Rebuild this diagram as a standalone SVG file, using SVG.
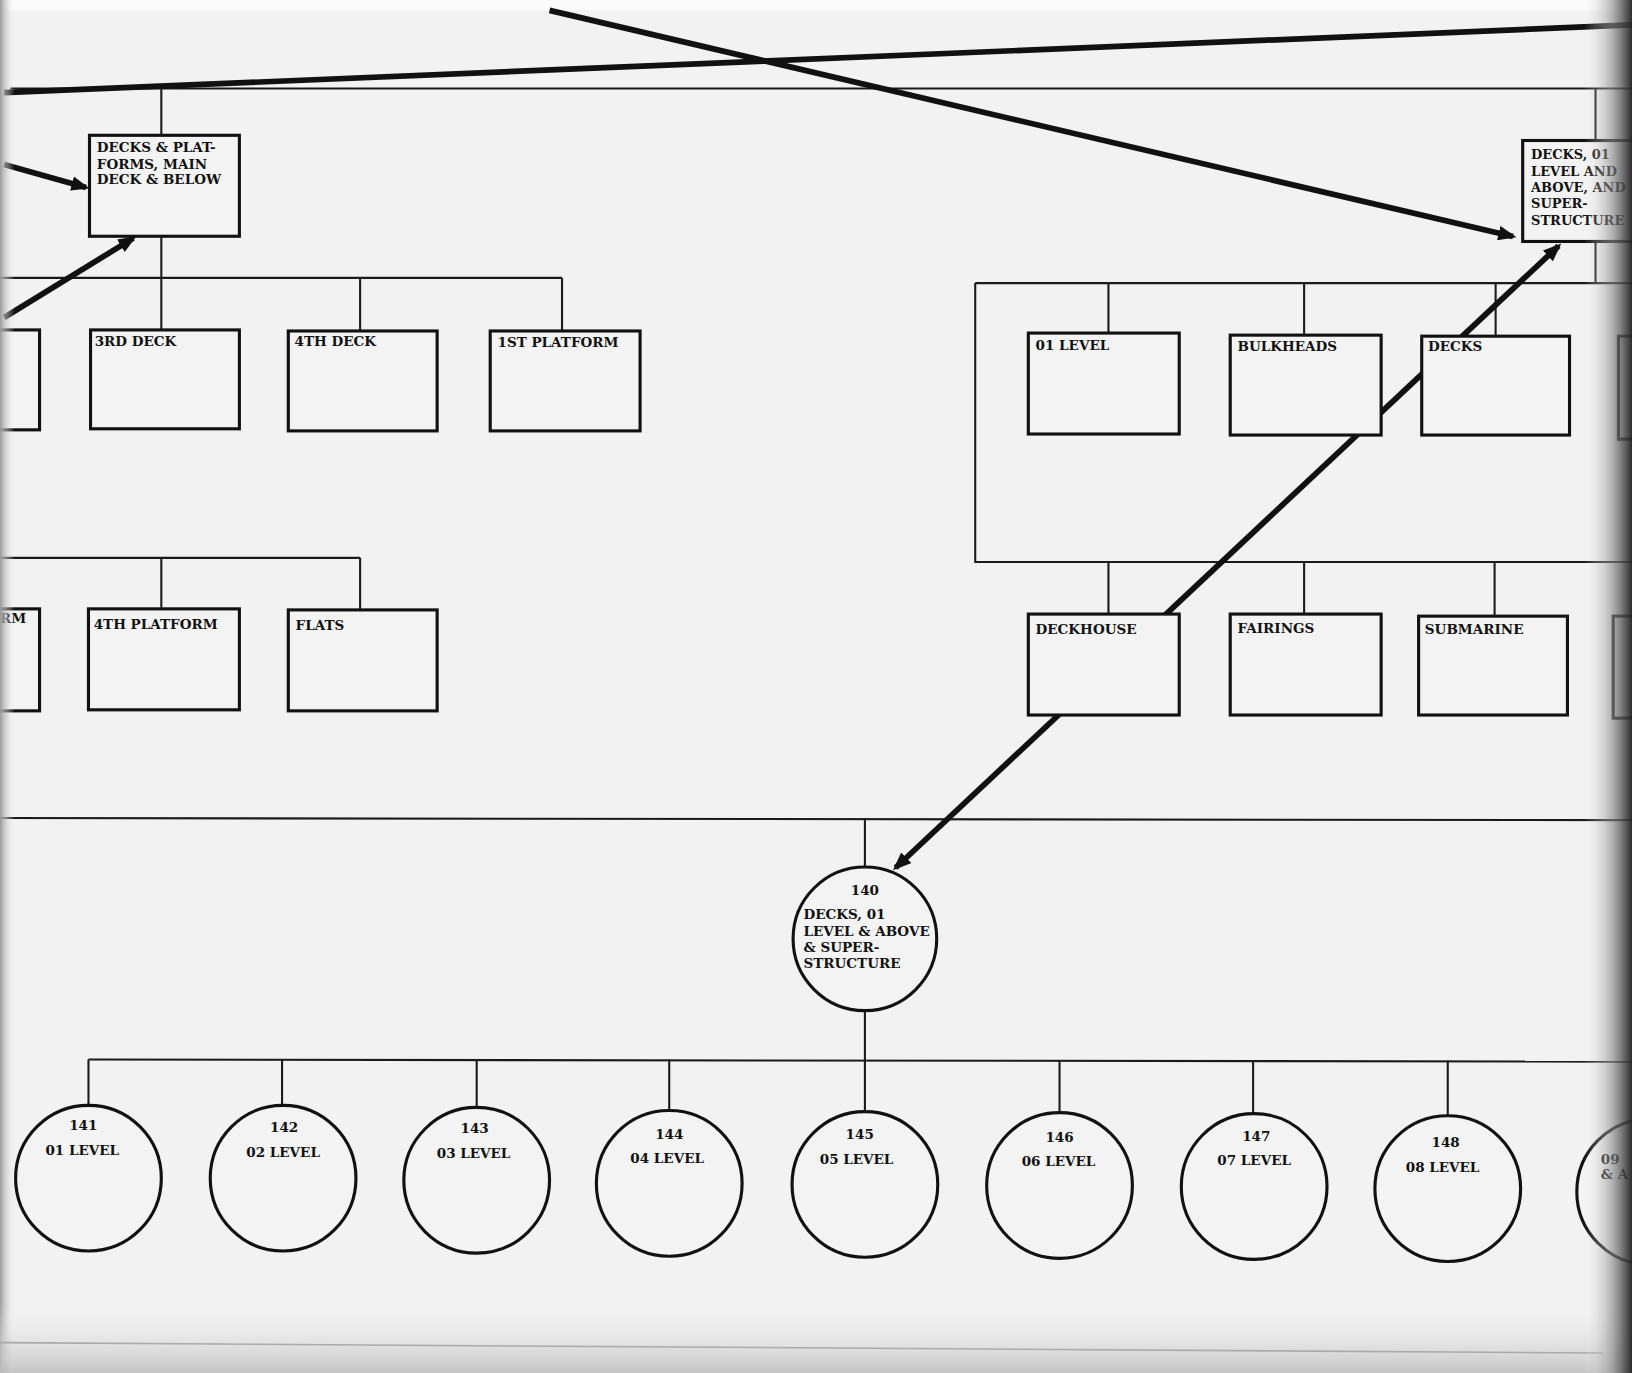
<svg xmlns="http://www.w3.org/2000/svg" width="1632" height="1373" viewBox="0 0 1632 1373">
<defs>
<marker id="ah" viewBox="0 0 10 8" refX="8" refY="4" markerWidth="3.2" markerHeight="2.6" orient="auto-start-reverse" markerUnits="strokeWidth"><path d="M0,0 L10,4 L0,8 z" fill="#111"/></marker>
<linearGradient id="gl" x1="0" y1="0" x2="1" y2="0"><stop offset="0" stop-color="#9a9a9a"/><stop offset="1" stop-color="#f2f2f2" stop-opacity="0"/></linearGradient>
<linearGradient id="gr" x1="0" y1="0" x2="1" y2="0"><stop offset="0" stop-color="#f2f2f2" stop-opacity="0"/><stop offset="0.55" stop-color="#8a8a8a" stop-opacity="0.6"/><stop offset="1" stop-color="#1a1a1a"/></linearGradient>
<linearGradient id="gb" x1="0" y1="0" x2="0" y2="1"><stop offset="0" stop-color="#f2f2f2" stop-opacity="0"/><stop offset="1" stop-color="#b5b5b5"/></linearGradient>
<style>
.thin{stroke:#1a1a1a;stroke-width:2;fill:none}
.thick{stroke:#111;stroke-width:5.5;fill:none}
.arr{stroke:#111;stroke-width:5.5;fill:none;marker-end:url(#ah)}
.arr2{stroke:#111;stroke-width:5.5;fill:none;marker-end:url(#ah);marker-start:url(#ah)}
.box{fill:#f3f3f3;stroke:#111;stroke-width:3}
.circ{fill:#f3f3f3;stroke:#111;stroke-width:3}
text{font-family:"DejaVu Serif","Liberation Serif",serif;font-weight:bold;font-size:13px;fill:#111}
.c{text-anchor:middle}
.s{font-size:12.5px}
</style>
</defs>
<g transform="scale(1.0408)">
<rect x="0" y="0" width="1600" height="1330" fill="#f2f2f2"/>
<rect x="0" y="0" width="1600" height="10" fill="#fbfbfb"/>

<g id="connectors">
<path class="thin" d="M10,85 H1568"/>
<path class="thin" d="M155,85 V130"/>
<path class="thin" d="M155,227 V267"/>
<path class="thin" d="M0,267 H540"/>
<path class="thin" d="M155,267 V317 M346,267 V318 M540,267 V318"/>
<path class="thin" d="M0,536 H346 M155,536 V585 M346,536 V586"/>
<path class="thin" d="M1533,85 V135 M1533,232 V272"/>
<path class="thin" d="M937,272 H1568 M937,272 V540 H1568"/>
<path class="thin" d="M1065,272 V320 M1253,272 V322 M1437,272 V323"/>
<path class="thin" d="M1065,540 V590 M1253,540 V590 M1436,540 V592"/>
<path class="thin" d="M0,786 L1568,788"/>
<path class="thin" d="M831,786 V833 M831,971 V1068"/>
<path class="thin" d="M85,1018 L1568,1020"/>
<path class="thin" d="M85,1018 V1062 M271,1018 V1062 M458,1018 V1064 M643,1018 V1067 M1018,1019 V1069 M1204,1019 V1070 M1391,1019 V1072"/>
<path class="thick" d="M4,89 L1568,24"/>
<path class="arr" d="M528,10 L1453.7,227.2"/>
<path class="arr" d="M4,158 L82.7,180.1"/>
<path class="arr" d="M4,305 L128.1,228.8"/>
<path class="arr2" d="M860.5,833.7 L1497.5,236.3"/>
</g>

<g id="n-main-deck">
<rect class="box" x="86" y="130" width="144" height="97"/>
<text x="93" y="146">DECKS &amp; PLAT-</text>
<text x="93" y="162">FORMS, MAIN</text>
<text x="93" y="177">DECK &amp; BELOW</text>
</g>
<g id="n-left-1"><rect class="box" x="-20" y="317" width="58" height="96"/></g>
<g id="n-3rd-deck"><rect class="box" x="87" y="317" width="143" height="95"/><text x="91" y="332">3RD DECK</text></g>
<g id="n-4th-deck"><rect class="box" x="277" y="318" width="143" height="96"/><text x="283" y="332">4TH DECK</text></g>
<g id="n-1st-platform"><rect class="box" x="471" y="318" width="144" height="96"/><text x="478" y="333">1ST PLATFORM</text></g>
<g id="n-left-2"><rect class="box" x="-20" y="585" width="58" height="98"/><text x="0" y="599">RM</text></g>
<g id="n-4th-platform"><rect class="box" x="85" y="585" width="145" height="97"/><text x="90" y="604">4TH PLATFORM</text></g>
<g id="n-flats"><rect class="box" x="277" y="586" width="143" height="97"/><text x="284" y="605">FLATS</text></g>

<g id="n-decks-01">
<rect class="box" x="1463" y="135" width="160" height="97"/>
<text class="s" x="1471" y="153">DECKS, 01</text>
<text class="s" x="1471" y="169">LEVEL AND</text>
<text class="s" x="1471" y="184">ABOVE, AND</text>
<text class="s" x="1471" y="200">SUPER-</text>
<text class="s" x="1471" y="216">STRUCTURE</text>
</g>
<g id="n-01-level"><rect class="box" x="988" y="320" width="145" height="97"/><text x="995" y="336">01 LEVEL</text></g>
<g id="n-bulkheads"><rect class="box" x="1182" y="322" width="145" height="96"/><text x="1189" y="337">BULKHEADS</text></g>
<g id="n-decks"><rect class="box" x="1366" y="323" width="142" height="95"/><text x="1372" y="337">DECKS</text></g>
<g id="n-right-1"><rect class="box" x="1555" y="323" width="60" height="99"/></g>
<g id="n-deckhouse"><rect class="box" x="988" y="590" width="145" height="97"/><text x="995" y="609">DECKHOUSE</text></g>
<g id="n-fairings"><rect class="box" x="1182" y="590" width="145" height="97"/><text x="1189" y="608">FAIRINGS</text></g>
<g id="n-submarine"><rect class="box" x="1363" y="592" width="143" height="95"/><text x="1369" y="609">SUBMARINE</text></g>
<g id="n-right-2"><rect class="box" x="1550" y="592" width="65" height="98"/></g>

<g id="n-140">
<ellipse class="circ" cx="831" cy="902" rx="69" ry="69"/>
<text class="c" x="831" y="860">140</text>
<text x="772" y="883">DECKS, 01</text>
<text x="772" y="899">LEVEL &amp; ABOVE</text>
<text x="772" y="915">&amp; SUPER-</text>
<text x="772" y="930">STRUCTURE</text>
</g>
<g id="n-141"><ellipse class="circ" cx="85" cy="1132" rx="70" ry="70"/><text class="c" x="80" y="1086">141</text><text class="c" x="79" y="1110">01 LEVEL</text></g>
<g id="n-142"><ellipse class="circ" cx="272" cy="1132" rx="70" ry="70"/><text class="c" x="273" y="1088">142</text><text class="c" x="272" y="1112">02 LEVEL</text></g>
<g id="n-143"><ellipse class="circ" cx="458" cy="1134" rx="70" ry="70"/><text class="c" x="456" y="1089">143</text><text class="c" x="455" y="1113">03 LEVEL</text></g>
<g id="n-144"><ellipse class="circ" cx="643" cy="1137" rx="70" ry="70"/><text class="c" x="643" y="1094">144</text><text class="c" x="641" y="1117">04 LEVEL</text></g>
<g id="n-145"><ellipse class="circ" cx="831" cy="1138" rx="70" ry="70"/><text class="c" x="826" y="1094">145</text><text class="c" x="823" y="1118">05 LEVEL</text></g>
<g id="n-146"><ellipse class="circ" cx="1018" cy="1139" rx="70" ry="70"/><text class="c" x="1018" y="1097">146</text><text class="c" x="1017" y="1120">06 LEVEL</text></g>
<g id="n-147"><ellipse class="circ" cx="1205" cy="1140" rx="70" ry="70"/><text class="c" x="1207" y="1096">147</text><text class="c" x="1205" y="1119">07 LEVEL</text></g>
<g id="n-148"><ellipse class="circ" cx="1391" cy="1142" rx="70" ry="70"/><text class="c" x="1389" y="1102">148</text><text class="c" x="1386" y="1126">08 LEVEL</text></g>
<g id="n-149"><ellipse class="circ" cx="1585" cy="1145" rx="70" ry="70"/><text x="1538" y="1118">09</text><text x="1538" y="1133">&amp; A</text></g>

<rect x="0" y="0" width="14" height="1330" fill="url(#gl)"/>
<rect x="0" y="1250" width="1600" height="80" fill="url(#gb)"/>
<path d="M0,1290 L1540,1300" stroke="#aaa" stroke-width="1.5"/>
<rect x="1522" y="0" width="48" height="1330" fill="url(#gr)"/>
</g>
</svg>
